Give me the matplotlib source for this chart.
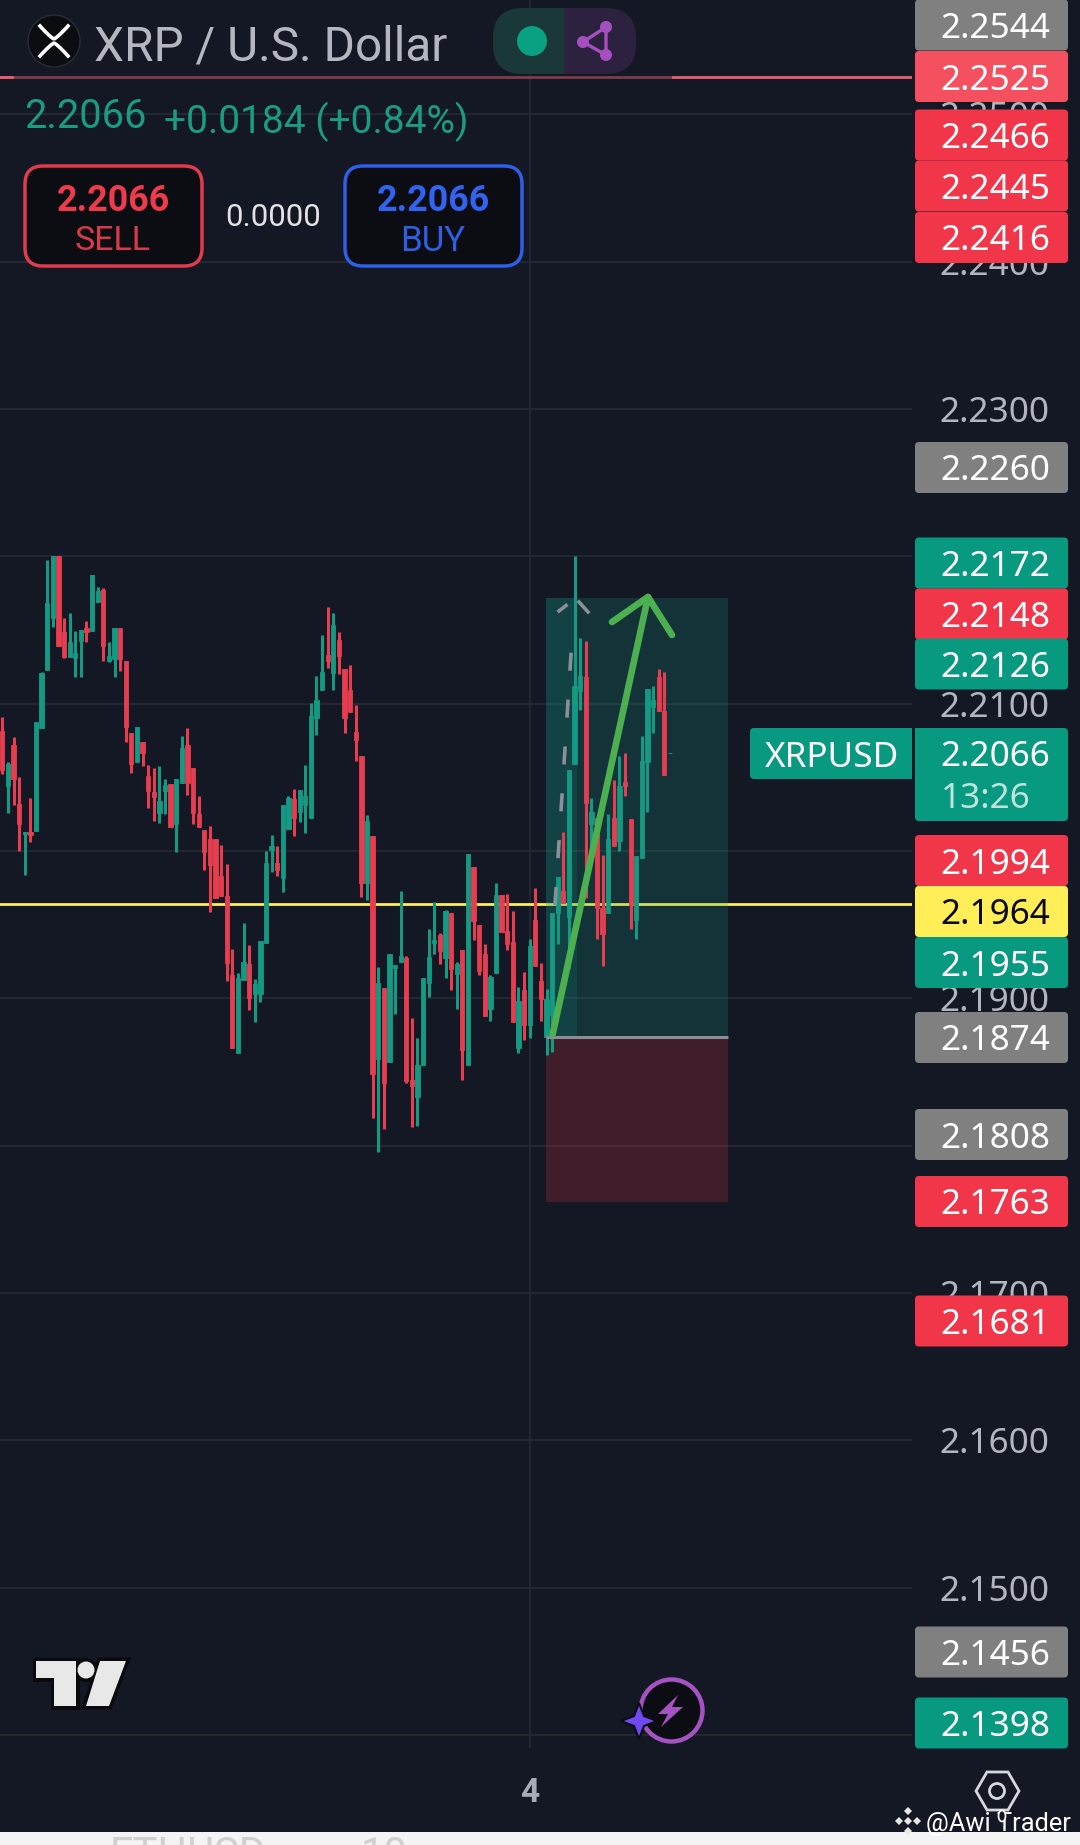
import numpy as np
import matplotlib
matplotlib.use("Agg")
import matplotlib.pyplot as plt
from matplotlib.patches import FancyBboxPatch, Rectangle, Circle, Polygon, Ellipse

plt.rcParams['font.family'] = ['Roboto', 'DejaVu Sans']
AXISFONT = ['Noto Sans', 'DejaVu Sans']

opens = [2.20815,2.20442,2.20722,2.20318,2.20112,2.20126,2.20138,2.20832,2.21231,2.21579,
2.22000,2.21486,2.21318,2.21313,2.21423,2.21514,2.21491,2.21692,2.21773,2.21290,
2.21304,2.21512,2.21292,2.20804,2.20605,2.20741,2.20512,2.20402,2.20255,2.20407,
2.20453,2.20182,2.20463,2.20722,2.20565,2.20248,2.20145,2.20084,2.20084,2.19827,
2.19694,2.19157,2.18631,2.19122,2.19234,2.19028,2.19028,2.19379,2.20009,2.19921,
2.19817,2.20149,2.20351,2.20268,2.20310,2.20227,2.20905,2.21090,2.21328,2.21209,
2.21430,2.21234,2.21093,2.20808,2.20647,2.19784,2.20105,2.18589,2.19071,2.18567,
2.19203,2.19245,2.19272,2.18443,2.18332,2.18545,2.19106,2.19375,2.19430,2.19272,
2.19577,2.19162,2.19328,2.18545,2.19892,2.19499,2.19300,2.18927,2.19170,2.19701,
2.19458,2.19383,2.18664,2.19059,2.18816,2.19530,2.19120,2.18736,2.18888,2.19577,
2.19729,2.19554,2.20593,2.21084,2.21178,2.20185,2.20224,2.19612,2.19577,2.20224,
2.20068,2.20470,2.20215,2.19530,2.19951,2.20605,2.20979,2.21178,2.20949,2.20664]
highs = [2.20909,2.20605,2.20776,2.20505,2.20131,2.20360,2.20878,2.21217,2.21977,2.22000,
2.22000,2.21584,2.21617,2.21495,2.21500,2.21561,2.21874,2.21792,2.21785,2.21416,
2.21512,2.21512,2.21292,2.20804,2.20843,2.20741,2.20586,2.20565,2.20575,2.20488,
2.20453,2.20491,2.20780,2.20836,2.20565,2.20376,2.20145,2.20173,2.20084,2.20044,
2.19914,2.19332,2.19173,2.19514,2.19362,2.19133,2.19386,2.20002,2.20110,2.20037,
2.20315,2.20371,2.20420,2.20415,2.20581,2.21007,2.21190,2.21463,2.21654,2.21618,
2.21488,2.21234,2.21259,2.20988,2.20647,2.20241,2.20105,2.19212,2.19071,2.19300,
2.19225,2.19729,2.19286,2.18866,2.18733,2.19137,2.19472,2.19651,2.19444,2.19599,
2.19577,2.19245,2.19328,2.19978,2.19892,2.19499,2.19369,2.19159,2.19784,2.19701,
2.19710,2.19593,2.19079,2.19181,2.19402,2.19748,2.19242,2.19063,2.19577,2.19822,
2.20126,2.20551,2.22000,2.21446,2.21428,2.20360,2.20224,2.19974,2.20248,2.20484,
2.20645,2.20668,2.20215,2.19963,2.20780,2.21100,2.21119,2.21236,2.21217,2.20664]
lows = [2.20523,2.20255,2.20313,2.20002,2.19834,2.20061,2.20138,2.20832,2.21231,2.21521,
2.21388,2.21311,2.21318,2.21182,2.21182,2.21416,2.21491,2.21692,2.21290,2.21280,
2.21182,2.21220,2.20738,2.20530,2.20605,2.20575,2.20294,2.20203,2.20192,2.20252,
2.20166,2.19995,2.20463,2.20383,2.20185,2.20161,2.19874,2.19584,2.19682,2.19696,
2.19117,2.18666,2.18631,2.19122,2.18923,2.18841,2.18977,2.19379,2.19855,2.19827,
2.19723,2.20149,2.20105,2.20194,2.20124,2.20227,2.20786,2.21090,2.21242,2.21095,
2.21203,2.20802,2.20946,2.20614,2.19685,2.19668,2.18191,2.17958,2.18111,2.18567,
2.18891,2.19245,2.18429,2.18124,2.18133,2.18545,2.19010,2.19303,2.19231,2.19140,
2.19059,2.18927,2.18445,2.18545,2.19397,2.19156,2.18877,2.18849,2.19170,2.19447,
2.19328,2.18838,2.18628,2.18716,2.18733,2.19217,2.18849,2.18615,2.18636,2.19367,
2.19647,2.19203,2.20593,2.20956,2.19682,2.20021,2.19402,2.19220,2.19577,2.20033,
2.19998,2.20376,2.19472,2.19402,2.19951,2.20266,2.20804,2.20949,2.20519,2.20664]
closes = [2.20547,2.20593,2.20488,2.20185,2.20126,2.20107,2.20878,2.21206,2.21680,2.22000,
2.21388,2.21318,2.21416,2.21341,2.21500,2.21486,2.21874,2.21762,2.21388,2.21322,
2.21512,2.21306,2.20839,2.20593,2.20843,2.20668,2.20407,2.20364,2.20341,2.20449,
2.20166,2.20491,2.20699,2.20463,2.20255,2.20161,2.19991,2.19904,2.19682,2.19696,
2.19238,2.18666,2.19140,2.19250,2.19005,2.19098,2.19386,2.19916,2.20033,2.19874,
2.20315,2.20360,2.20221,2.20415,2.20371,2.20913,2.21024,2.21217,2.21292,2.21533,
2.21322,2.20905,2.20946,2.20752,2.19784,2.20205,2.18484,2.19106,2.18429,2.19300,
2.19225,2.19286,2.18437,2.18407,2.18548,2.19137,2.19281,2.19397,2.19319,2.19591,
2.19198,2.19231,2.18650,2.19978,2.19527,2.19189,2.18877,2.19142,2.19701,2.19447,
2.19369,2.18838,2.18982,2.18816,2.19355,2.19217,2.18996,2.18993,2.19577,2.19822,
2.19647,2.20551,2.21119,2.21189,2.20325,2.20266,2.19612,2.19437,2.20084,2.20033,
2.20442,2.20442,2.19636,2.19963,2.20612,2.21100,2.21026,2.20949,2.20519,2.20664]

price_ticks = [2.14,2.15,2.16,2.17,2.18,2.19,2.20,2.21,2.22,2.23,2.24,2.25]
time_tick = 94
time_label = "4"

alert_price = 2.2525
level_price = 2.1964
target_price = 2.2172
entry_price = 2.1874
stop_price = 2.1762
position_start = 96.9
position_band_end = 102.4
position_end = 129.35

tag_labels = ["2.2544","2.2525","2.2466","2.2445","2.2416","2.2260","2.2172","2.2148","2.2126",
              "2.1994","2.1964","2.1955","2.1874","2.1808","2.1763","2.1681","2.1456","2.1398"]
tag_kinds  = ["gray","pink","red","red","red","gray","green","red","green",
              "red","yellow","green","gray","gray","red","red","gray","green"]
tag_y_px   = [25,76.5,135,186,237.5,467.5,563,614,664,860.5,911.5,962.5,1037.5,1134.5,1201.5,1321,1652,1723]

BG = "#141824"
GRID = "#23272F"
UP = "#149A83"
DOWN = "#E63E50"
TAGC = {"gray":"#808080","pink":"#F5505F","red":"#F2364A","green":"#089981","yellow":"#FFEE58"}

fig = plt.figure(figsize=(10.8,18.45), dpi=100, facecolor=BG)
ax = fig.add_axes([0, 1-1748/1845, 912/1080, 1748/1845], facecolor=BG)
ax.set_xlim(-0.415, 162.15)
ax.set_ylim(2.20-897/14737, 2.20+851/14737)
for s in ax.spines.values():
    s.set_visible(False)

ax.set_yticks(price_ticks)
ax.set_yticklabels([f"{t:.4f}" for t in price_ticks], fontsize=25.3, color="#B2B5BE",
                   family=AXISFONT, va='center_baseline')
ax.yaxis.tick_right()
ax.tick_params(axis='y', length=0, pad=19.5)
ax.set_xticks([time_tick])
ax.set_xticklabels([time_label], fontsize=24, fontweight='bold', color="#A9ACB7")
ax.tick_params(axis='x', length=0, pad=21)
ax.grid(True, color=GRID, lw=1.5, zorder=0)
ax.set_axisbelow(True)

x = np.arange(len(opens))
o, h, l, c = map(np.array, (opens, highs, lows, closes))
cols = [UP if cc >= oo else DOWN for oo, cc in zip(o, c)]

# horizontal levels, under the position tool and the candles
ax.axhline(level_price, color="#FFEE58", lw=2.0, zorder=1)
ax.plot([-0.415, 119.5], [alert_price]*2, color="#7E3B48", lw=2.0, zorder=1)
ax.plot([119.5, 162.15], [alert_price]*2, color="#E8606E", lw=2.0, zorder=1)
ax.plot([-0.415, 1.7], [alert_price]*2, color="#E8606E", lw=2.0, zorder=1)

# position tool
w = position_end-position_start
ax.add_patch(Rectangle((position_start, entry_price), w, target_price-entry_price,
                       fc="#12A08E", alpha=0.2, ec="none", zorder=1.5))
ax.add_patch(Rectangle((position_start, entry_price), position_band_end-position_start,
                       target_price-entry_price, fc="#12A08E", alpha=0.14, ec="none", zorder=1.5))
ax.add_patch(Rectangle((position_start, stop_price), w, entry_price-stop_price,
                       fc="#F23645", alpha=0.2, ec="none", zorder=1.5))

ax.vlines(x, l, h, colors=cols, lw=2.2, zorder=2)
ax.bar(x, c-o, bottom=o, width=0.76, color=cols, edgecolor=cols, linewidth=0.6, zorder=3)
ax.plot([position_start, position_end], [entry_price]*2, color="#8A8D94", lw=2.2,
        solid_capstyle='butt', zorder=4)

ov = fig.add_axes([0,0,1,1], zorder=5)
ov.set_xlim(0,1080); ov.set_ylim(1845,0); ov.axis('off')

ov.plot([555,572.7],[905,628], color="#8B8F97", lw=2.6, dashes=(5,8), zorder=6)
ov.plot([559,566],[611,605.5], color="#8B8F97", lw=2.6, zorder=6)
ov.plot([579,588],[602,612], color="#8B8F97", lw=2.6, zorder=6)
ov.plot([552.7,648],[1034,597], color="#4CAF50", lw=4.8, solid_capstyle='round', zorder=7)
ov.plot([612,648,672],[622,597,635], color="#4CAF50", lw=4.8, solid_capstyle='round',
        solid_joinstyle='round', zorder=7)

def box(x0, y0, w, h, fc, ec='none', lw=0, r=5, z=3):
    ov.add_patch(FancyBboxPatch((x0,y0), w, h, boxstyle=f"round,pad=0,rounding_size={r}",
                                fc=fc, ec=ec, lw=lw, zorder=z))

for lab, kind, yy in zip(tag_labels, tag_kinds, tag_y_px):
    box(915, yy-25.5, 153, 51, TAGC[kind], r=4)
    ov.text(995, yy, lab, color="#0A0A0A" if kind=="yellow" else "white", family=AXISFONT,
            fontsize=25.3, ha='center', va='center_baseline', zorder=4)

box(915, 728, 153, 93, "#089981", r=4)
ov.text(995, 753, "2.2066", color="white", family=AXISFONT, fontsize=25.3, ha='center', va='center_baseline', zorder=4)
ov.text(941, 795, "13:26", color="#BDE5DC", family=AXISFONT, fontsize=25.3, ha='left', va='center_baseline', zorder=4)
box(750, 728, 170, 51, "#089981", r=4, z=2.5)
ov.add_patch(Rectangle((912,726), 3, 55, fc=BG, ec='none', zorder=2.6))
ov.text(831.5, 754, "XRPUSD", color="white", family=AXISFONT, fontsize=25.3, ha='center', va='center_baseline', zorder=4)

# header
ov.add_patch(Circle((54,41), 26, fc="#0B0C10", ec="#2A2D36", lw=1, zorder=3))
tt = np.linspace(-1,1,30)
for sy in (-1,1):
    ov.plot(54+tt*14, 41+sy*(2+13*np.abs(tt)**1.2), color="white", lw=2.6, zorder=4)
ov.text(94, 42, "XRP / U.S. Dollar", color="#B5B7C0", fontsize=34.4, ha='left', va='center_baseline', zorder=4)

ov.add_patch(FancyBboxPatch((493,8), 143, 66, boxstyle="round,pad=0,rounding_size=30",
                            fc="#2C2240", ec='none', zorder=3))
ov.add_patch(FancyBboxPatch((493,8), 100, 66, boxstyle="round,pad=0,rounding_size=30",
                            fc="#1A3838", ec='none', zorder=3))
ov.add_patch(Rectangle((564,8), 45, 66, fc="#2C2240", ec='none', zorder=3.5))
ov.add_patch(Circle((532,41), 15, fc="#0AA082", ec='none', zorder=4))
pts = [(583,42),(606,27),(606,55)]
ov.add_patch(Polygon(pts, closed=True, fc='none', ec="#A64FC0", lw=2.4, zorder=4))
for p in pts:
    ov.add_patch(Circle(p, 6, fc="#A64FC0", ec='none', zorder=4))

ov.text(24, 112, "2.2066", color="#1B9C80", fontsize=28.6, ha='left', va='center_baseline', zorder=4)
ov.text(164, 117, "+0.0184 (+0.84%)", color="#1B9C80", fontsize=28, ha='left', va='center_baseline', zorder=4)

box(25, 166, 177, 100, "#0C0D12", ec="#E23B4B", lw=2.5, r=18)
ov.text(113, 197, "2.2066", color="#EE3B4C", fontsize=25.8, fontweight='bold', ha='center', va='center_baseline', zorder=4)
ov.text(113, 238, "SELL", color="#D8394A", fontsize=24.5, ha='center', va='center_baseline', zorder=4)
ov.text(273.5, 215, "0.0000", color="#E2E2E2", fontsize=22.5, ha='center', va='center_baseline', zorder=4)
box(345, 166, 177, 100, "#0C0D12", ec="#2F5FE8", lw=2.5, r=18)
ov.text(433, 197, "2.2066", color="#3163F0", fontsize=25.8, fontweight='bold', ha='center', va='center_baseline', zorder=4)
ov.text(433, 238, "BUY", color="#2F5FE0", fontsize=25, ha='center', va='center_baseline', zorder=4)

# TradingView logo with dark halo
tv_t = [(36,1661),(76,1661),(76,1706),(54,1706),(54,1678),(36,1678)]
tv_s = [(100,1661),(126,1661),(109,1706),(86,1706)]
for kw in ({'fc':"#0A0A0C",'ec':"#0A0A0C",'lw':5,'zorder':3}, {'fc':"#E8E8E8",'ec':'none','zorder':4}):
    ov.add_patch(Polygon(tv_t, **kw))
    ov.add_patch(Polygon(tv_s, **kw))
    ov.add_patch(Circle((86,1670), 8.5, **kw))

# lightning badge
ov.add_patch(Circle((671.5,1710.5), 31, fc="#0C0D12", ec="#A552C2", lw=3.2, zorder=3))
ov.add_patch(Polygon([(678,1695),(658,1714),(668,1714),(661,1727),(683,1707),(672,1707)],
                     fc="#A552C2", ec='none', zorder=4))
a, b = 18, 5
star = [(639,1721-a),(639+b,1721-b),(639+a,1721),(639+b,1721+b),(639,1721+a),(639-b,1721+b),(639-a,1721),(639-b,1721-b)]
ov.add_patch(Polygon(star, fc="#7048F5", ec="#0C0D12", lw=1.5, zorder=5))

# settings hexagon
hx = [(976,1791),(987,1772),(1008,1772),(1019,1791),(1008,1810),(987,1810)]
ov.add_patch(Polygon(hx, fc='none', ec="#D6D8DE", lw=2, zorder=4))
ov.add_patch(Circle((997,1791), 7.5, fc='none', ec="#D6D8DE", lw=2, zorder=4))

# watermark + cropped strip
for cx, cy in [(908,1811),(908,1831),(899,1821),(917,1821),(908,1821)]:
    ov.add_patch(Polygon([(cx,cy-4),(cx+4,cy),(cx,cy+4),(cx-4,cy)], fc="#E8E8E8", ec='none', zorder=6))
ov.text(926, 1822, "@Awi Trader", color="white", fontsize=18.3, ha='left', va='center_baseline', zorder=7)
ov.add_patch(Ellipse((1002,1816), 7, 11, fc="#141824", ec="white", lw=1.2, zorder=8))
ov.add_patch(Rectangle((0,1832), 1080, 13, fc="#F4F4F4", ec='none', zorder=5))
ov.text(110, 1835, "ETHUSD", color="#D0D0D0", fontsize=30, ha='left', va='top', zorder=6, clip_on=True)
ov.text(361, 1835, "10", color="#D0D0D0", fontsize=30, ha='left', va='top', zorder=6, clip_on=True)

fig.savefig("out.png", dpi=100, facecolor=BG)
